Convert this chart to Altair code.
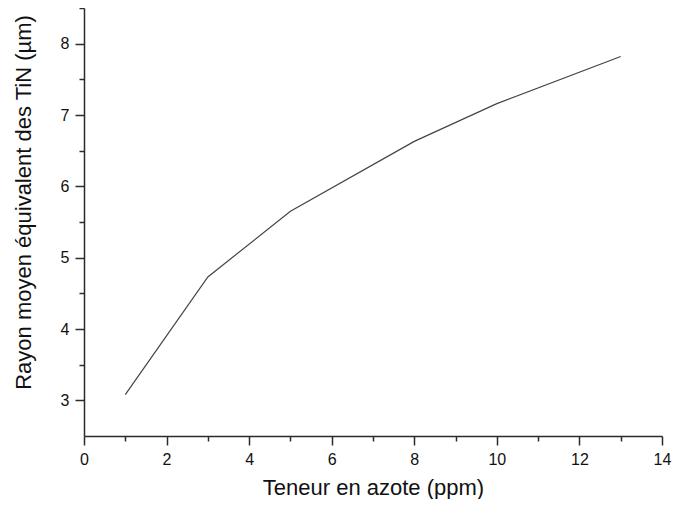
import altair as alt
import pandas as pd

# Data
nitrogen_ppm = [1, 3, 5, 8, 10, 13]
radius_um = [3.08, 4.73, 5.65, 6.63, 7.16, 7.82]

x_tick_values = [0, 1, 2, 3, 4, 5, 6, 7, 8, 9, 10, 11, 12, 13, 14]
y_tick_values = [3, 3.5, 4, 4.5, 5, 5.5, 6, 6.5, 7, 7.5, 8, 8.5]

df = pd.DataFrame({"x": nitrogen_ppm, "y": radius_um})

FONT = "Liberation Sans"
AXIS_COLOR = "#2b2b2b"

x_axis = alt.Axis(
    title="Teneur en azote (ppm)",
    values=x_tick_values,
    labelExpr="datum.value % 2 === 0 ? format(datum.value, 'd') : ''",
    tickSize={"condition": {"test": "datum.value % 2 === 0", "value": 9}, "value": 5},
    tickWidth=1.5,
    tickColor=AXIS_COLOR,
    domainColor=AXIS_COLOR,
    domainWidth=1.5,
    grid=False,
    labelFont=FONT,
    labelFontSize=16,
    labelColor="#111111",
    labelPadding=6,
    labelFlush=False,
    labelOverlap=False,
    titleFont=FONT,
    titleFontSize=22,
    titleFontWeight="normal",
    titleColor="#111111",
    titleBaseline="alphabetic",
    titleY=58,
)

y_axis = alt.Axis(
    title="Rayon moyen équivalent des TiN (µm)",
    values=y_tick_values,
    labelExpr="datum.value % 1 === 0 ? format(datum.value, 'd') : ''",
    tickSize={"condition": {"test": "datum.value % 1 === 0", "value": 9}, "value": 5},
    tickWidth=1.5,
    tickColor=AXIS_COLOR,
    domainColor=AXIS_COLOR,
    domainWidth=1.5,
    grid=False,
    labelFont=FONT,
    labelFontSize=16,
    labelColor="#111111",
    labelPadding=6,
    labelFlush=False,
    labelOverlap=False,
    titleFont=FONT,
    titleFontSize=22,
    titleFontWeight="normal",
    titleColor="#111111",
    titleBaseline="alphabetic",
    titleAlign="center",
    titleAngle=270,
    titleX=-54,
    titleY=194,
)

chart = (
    alt.Chart(df)
    .mark_line(color="#444444", strokeWidth=1.2)
    .encode(
        x=alt.X("x:Q", scale=alt.Scale(domain=[0, 14], nice=False, zero=False), axis=x_axis),
        y=alt.Y("y:Q", scale=alt.Scale(domain=[2.5, 8.5], nice=False, zero=False), axis=y_axis),
    )
    .properties(
        width=578,
        height=428,
        background="white",
        autosize=alt.AutoSizeParams(type="none"),
        padding={"left": 76, "top": 0, "right": 10, "bottom": 63},
    )
    .configure_view(stroke="transparent", strokeWidth=0)
)

chart.save("out.html", embed_options={"renderer": "svg", "actions": False})
